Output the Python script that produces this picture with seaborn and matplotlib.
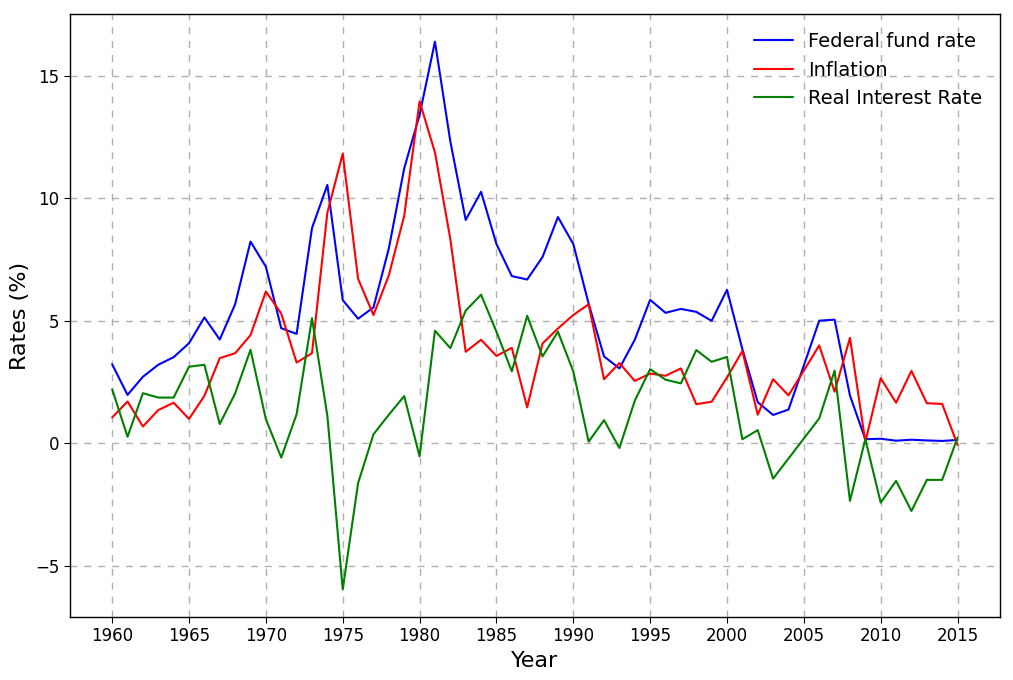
import pandas as pd
import matplotlib
matplotlib.use("Agg")
import matplotlib.pyplot as plt
import seaborn as sns

years = list(range(1960, 2016))

fed_rate = [3.22, 1.97, 2.71, 3.20, 3.51, 4.08, 5.13, 4.23, 5.67, 8.23,
            7.20, 4.69, 4.46, 8.78, 10.54, 5.84, 5.08, 5.54, 7.95, 11.22,
            13.40, 16.39, 12.32, 9.11, 10.26, 8.13, 6.82, 6.68, 7.60, 9.23,
            8.13, 5.69, 3.54, 3.05, 4.22, 5.85, 5.32, 5.48, 5.36, 4.99,
            6.26, 3.84, 1.67, 1.15, 1.37, 3.17, 5.00, 5.04, 1.94, 0.16,
            0.18, 0.10, 0.14, 0.11, 0.09, 0.13]

inflation = [1.05, 1.70, 0.68, 1.35, 1.65, 0.99, 1.93, 3.47, 3.67, 4.41,
             6.19, 5.29, 3.29, 3.67, 9.41, 11.82, 6.71, 5.23, 6.85, 9.28,
             13.95, 11.87, 8.33, 3.73, 4.22, 3.56, 3.89, 1.46, 4.07, 4.68,
             5.23, 5.67, 2.61, 3.27, 2.54, 2.84, 2.75, 3.05, 1.59, 1.69,
             2.68, 3.76, 1.16, 2.61, 1.95, 2.96, 3.99, 2.10, 4.30, 0.05,
             2.65, 1.65, 2.95, 1.63, 1.60, -0.07]

real_rate = [2.20, 0.26, 2.04, 1.86, 1.86, 3.12, 3.20, 0.78, 2.03, 3.81,
             0.98, -0.59, 1.18, 5.10, 1.12, -5.97, -1.63, 0.36, 1.16, 1.92,
             -0.54, 4.59, 3.88, 5.41, 6.06, 4.55, 2.93, 5.20, 3.54, 4.55,
             2.93, 0.06, 0.94, -0.20, 1.73, 3.02, 2.59, 2.44, 3.80, 3.32,
             3.52, 0.16, 0.53, -1.45, -0.63, 0.19, 1.01, 2.96, -2.36, 0.16,
             -2.43, -1.54, -2.77, -1.50, -1.50, 0.23]

df = pd.DataFrame({
    "Year": years,
    "Federal fund rate": fed_rate,
    "Inflation": inflation,
    "Real Interest Rate": real_rate,
})

sns.set_style("ticks")
plt.rcParams["font.family"] = ["DejaVu Sans"]
plt.rcParams["text.color"] = "black"
plt.rcParams["axes.labelcolor"] = "black"
plt.rcParams["xtick.color"] = "black"
plt.rcParams["ytick.color"] = "black"

fig, ax = plt.subplots(figsize=(10.13, 6.8), dpi=100)

colors = {"Federal fund rate": "blue", "Inflation": "red", "Real Interest Rate": "green"}
for col, c in colors.items():
    sns.lineplot(x="Year", y=col, data=df, color=c, linewidth=1.5, label=col, ax=ax)

ax.set_xticks(list(range(1960, 2016, 5)))
ax.grid(True, linestyle=(0, (5, 5)), color="#b0b0b0", linewidth=1)
ax.tick_params(labelsize=12, direction="out", length=4, color="black", labelcolor="black")
for s in ax.spines.values():
    s.set_color("black")
    s.set_linewidth(1)

ax.set_xlabel("Year", fontsize=16)
ax.set_ylabel("Rates (%)", fontsize=16)
ax.legend(fontsize=14, frameon=False, loc="upper right")

plt.subplots_adjust(left=0.069, right=0.987, top=0.979, bottom=0.093)
plt.savefig("out.png", dpi=100)
plt.close()
